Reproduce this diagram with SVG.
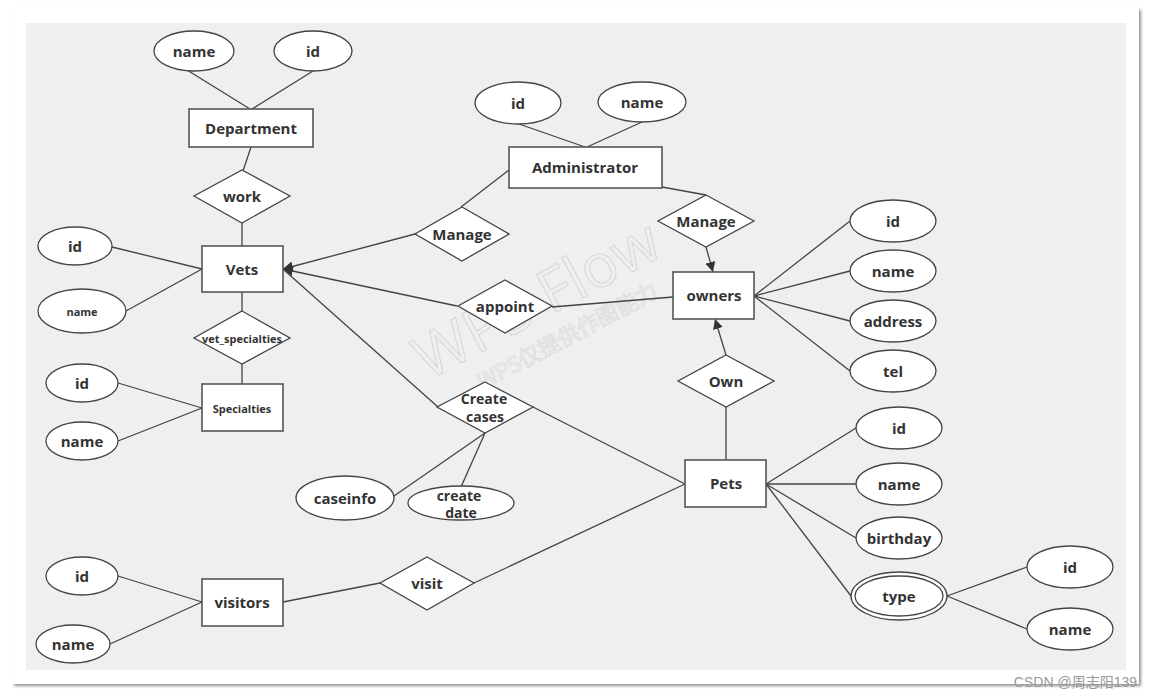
<svg xmlns="http://www.w3.org/2000/svg" width="1151" height="700" viewBox="0 0 1151 700">
<defs>
<marker id="arr" viewBox="0 0 10 10" refX="10" refY="5" markerWidth="10" markerHeight="10" markerUnits="userSpaceOnUse" orient="auto">
<path d="M0,0 L10,5 L0,10 z" fill="#333"/>
</marker>
<filter id="sh" x="-5%" y="-5%" width="110%" height="110%">
<feDropShadow dx="2" dy="2" stdDeviation="1.5" flood-color="#777" flood-opacity="0.8"/>
</filter>
</defs>
<style>
.ent{fill:#fff;stroke:#555;stroke-width:1.6}
.att{fill:#fff;stroke:#444;stroke-width:1.3}
.rel{fill:#fff;stroke:#444;stroke-width:1.3}
.t{font-family:"Open Sans","Liberation Sans",sans-serif;font-weight:bold;font-size:15px;fill:#333;text-anchor:middle;dominant-baseline:central}
.s{font-size:11px}
.m{font-size:14px}
.ln{stroke:#444;stroke-width:1.3;fill:none}
.wm{font-family:"Open Sans","Liberation Sans",sans-serif;fill:none;stroke:#d6d6d6;stroke-width:1}
.wc{font-family:"Noto Sans CJK SC","Open Sans",sans-serif;font-weight:normal;fill:none;stroke:#d9d9d9;stroke-width:0.7}
</style>
<rect x="0" y="0" width="1151" height="700" fill="#fff"/>
<rect x="12" y="8" width="1127" height="676" fill="#fff" filter="url(#sh)"/>
<rect x="26" y="23" width="1100" height="647" fill="#efefef"/>
<g transform="rotate(-28 545 315)">
<text class="wm" x="545" y="318" font-size="60" text-anchor="middle">WPS Flow</text>
<text class="wc" x="555" y="352" font-size="22" text-anchor="middle">WPS仅提供作图能力</text>
</g>
<g id="connectors">
<line class="ln" x1="187" y1="70" x2="250" y2="109"/>
<line class="ln" x1="313" y1="71" x2="252" y2="109"/>
<line class="ln" x1="251" y1="147" x2="243" y2="171"/>
<line class="ln" x1="242" y1="223" x2="242" y2="246"/>
<line class="ln" x1="112" y1="247" x2="202" y2="269"/>
<line class="ln" x1="126" y1="311" x2="202" y2="269"/>
<line class="ln" x1="242" y1="292" x2="242" y2="311"/>
<line class="ln" x1="242" y1="364" x2="242" y2="384"/>
<line class="ln" x1="118" y1="383" x2="202" y2="408"/>
<line class="ln" x1="118" y1="441" x2="202" y2="408"/>
<line class="ln" x1="519" y1="124" x2="585" y2="147"/>
<line class="ln" x1="642" y1="122" x2="587" y2="147"/>
<line class="ln" x1="509" y1="170" x2="461" y2="207"/>
<line class="ln" x1="415" y1="234" x2="283" y2="269" marker-end="url(#arr)"/>
<line class="ln" x1="457" y1="306" x2="283" y2="269" marker-end="url(#arr)"/>
<line class="ln" x1="438" y1="407" x2="284" y2="270"/>
<line class="ln" x1="662" y1="187" x2="706" y2="195"/>
<line class="ln" x1="706" y1="247" x2="713" y2="272" marker-end="url(#arr)"/>
<line class="ln" x1="552" y1="307" x2="673" y2="297"/>
<line class="ln" x1="726" y1="355" x2="715" y2="319" marker-end="url(#arr)"/>
<line class="ln" x1="726" y1="407" x2="726" y2="460"/>
<line class="ln" x1="754" y1="296" x2="850" y2="221"/>
<line class="ln" x1="754" y1="296" x2="850" y2="271"/>
<line class="ln" x1="754" y1="296" x2="850" y2="321"/>
<line class="ln" x1="754" y1="296" x2="850" y2="371"/>
<line class="ln" x1="533" y1="407" x2="685" y2="484"/>
<line class="ln" x1="485" y1="433" x2="394" y2="496"/>
<line class="ln" x1="485" y1="433" x2="461" y2="487"/>
<line class="ln" x1="474" y1="583" x2="685" y2="484"/>
<line class="ln" x1="283" y1="602" x2="380" y2="583"/>
<line class="ln" x1="118" y1="576" x2="202" y2="602"/>
<line class="ln" x1="110" y1="644" x2="202" y2="602"/>
<line class="ln" x1="766" y1="484" x2="856" y2="428"/>
<line class="ln" x1="766" y1="484" x2="856" y2="484"/>
<line class="ln" x1="766" y1="484" x2="856" y2="538"/>
<line class="ln" x1="766" y1="484" x2="851" y2="596"/>
<line class="ln" x1="947" y1="596" x2="1027" y2="567"/>
<line class="ln" x1="947" y1="596" x2="1027" y2="629"/>
</g>
<g id="dept-name"><ellipse class="att" cx="194" cy="51" rx="40" ry="20"/><text class="t" x="194" y="51">name</text></g>
<g id="dept-id"><ellipse class="att" cx="313" cy="51" rx="39" ry="20"/><text class="t" x="313" y="51">id</text></g>
<g id="department"><rect class="ent" x="189" y="109" width="124" height="38"/><text class="t" x="251" y="128">Department</text></g>
<g id="work"><polygon class="rel" points="242,170 290,196 242,223 194,196"/><text class="t" x="242" y="196">work</text></g>
<g id="vets-id"><ellipse class="att" cx="75" cy="246" rx="37" ry="19"/><text class="t" x="75" y="246">id</text></g>
<g id="vets-name"><ellipse class="att" cx="82" cy="311" rx="44" ry="22"/><text class="t s" x="82" y="311">name</text></g>
<g id="vets"><rect class="ent" x="202" y="246" width="81" height="46"/><text class="t" x="242" y="269">Vets</text></g>
<g id="vet_specialties"><polygon class="rel" points="242,311 290,338 242,364 194,338"/><text class="t s" x="242" y="338">vet_specialties</text></g>
<g id="spec-id"><ellipse class="att" cx="82" cy="383" rx="36" ry="19"/><text class="t" x="82" y="383">id</text></g>
<g id="spec-name"><ellipse class="att" cx="82" cy="441" rx="36" ry="19"/><text class="t" x="82" y="441">name</text></g>
<g id="specialties"><rect class="ent" x="202" y="384" width="81" height="47"/><text class="t s" x="242" y="408">Specialties</text></g>
<g id="admin-id"><ellipse class="att" cx="518" cy="103" rx="43" ry="21"/><text class="t" x="518" y="103">id</text></g>
<g id="admin-name"><ellipse class="att" cx="642" cy="102" rx="44" ry="20"/><text class="t" x="642" y="102">name</text></g>
<g id="administrator"><rect class="ent" x="509" y="147" width="153" height="41"/><text class="t" x="585" y="167">Administrator</text></g>
<g id="manage-vets"><polygon class="rel" points="462,207 509,234 462,261 415,234"/><text class="t" x="462" y="234">Manage</text></g>
<g id="manage-owners"><polygon class="rel" points="706,195 754,221 706,247 658,221"/><text class="t" x="706" y="221">Manage</text></g>
<g id="appoint"><polygon class="rel" points="505,280 552,306 505,333 458,306"/><text class="t" x="505" y="306">appoint</text></g>
<g id="owners"><rect class="ent" x="673" y="272" width="81" height="47"/><text class="t" x="714" y="295">owners</text></g>
<g id="owner-id"><ellipse class="att" cx="893" cy="221" rx="43" ry="21"/><text class="t" x="893" y="221">id</text></g>
<g id="owner-name"><ellipse class="att" cx="893" cy="271" rx="43" ry="21"/><text class="t" x="893" y="271">name</text></g>
<g id="owner-address"><ellipse class="att" cx="893" cy="321" rx="43" ry="21"/><text class="t" x="893" y="321">address</text></g>
<g id="owner-tel"><ellipse class="att" cx="893" cy="371" rx="43" ry="21"/><text class="t" x="893" y="371">tel</text></g>
<g id="own"><polygon class="rel" points="726,355 774,381 726,407 678,381"/><text class="t" x="726" y="381">Own</text></g>
<g id="create-cases"><polygon class="rel" points="485,382 533,407 485,433 437,407"/><text class="t m" x="484" y="398">Create</text><text class="t m" x="485" y="416">cases</text></g>
<g id="caseinfo"><ellipse class="att" cx="345" cy="498" rx="49" ry="22"/><text class="t" x="345" y="498">caseinfo</text></g>
<g id="create-date"><ellipse class="att" cx="461" cy="503" rx="53" ry="17"/><text class="t m" x="459" y="495">create</text><text class="t m" x="461" y="512">date</text></g>
<g id="pets"><rect class="ent" x="685" y="460" width="81" height="47"/><text class="t" x="726" y="483">Pets</text></g>
<g id="pet-id"><ellipse class="att" cx="899" cy="428" rx="43" ry="21"/><text class="t" x="899" y="428">id</text></g>
<g id="pet-name"><ellipse class="att" cx="899" cy="484" rx="43" ry="21"/><text class="t" x="899" y="484">name</text></g>
<g id="pet-birthday"><ellipse class="att" cx="899" cy="538" rx="43" ry="21"/><text class="t" x="899" y="538">birthday</text></g>
<g id="pet-type"><ellipse class="att" cx="899" cy="596" rx="48" ry="24"/><ellipse class="att" cx="899" cy="596" rx="44" ry="20"/><text class="t" x="899" y="596">type</text></g>
<g id="type-id"><ellipse class="att" cx="1070" cy="567" rx="43" ry="21"/><text class="t" x="1070" y="567">id</text></g>
<g id="type-name"><ellipse class="att" cx="1070" cy="629" rx="43" ry="21"/><text class="t" x="1070" y="629">name</text></g>
<g id="visit"><polygon class="rel" points="427,557 474,583 427,610 380,583"/><text class="t" x="427" y="583">visit</text></g>
<g id="visitors"><rect class="ent" x="202" y="579" width="81" height="47"/><text class="t" x="242" y="602">visitors</text></g>
<g id="visitor-id"><ellipse class="att" cx="82" cy="576" rx="36" ry="19"/><text class="t" x="82" y="576">id</text></g>
<g id="visitor-name"><ellipse class="att" cx="73" cy="644" rx="37" ry="19"/><text class="t" x="73" y="644">name</text></g>
<text x="1137" y="687" text-anchor="end" font-family="'Liberation Sans','Noto Sans CJK SC',sans-serif" font-size="14" fill="#999">CSDN @周志阳139</text>
</svg>
